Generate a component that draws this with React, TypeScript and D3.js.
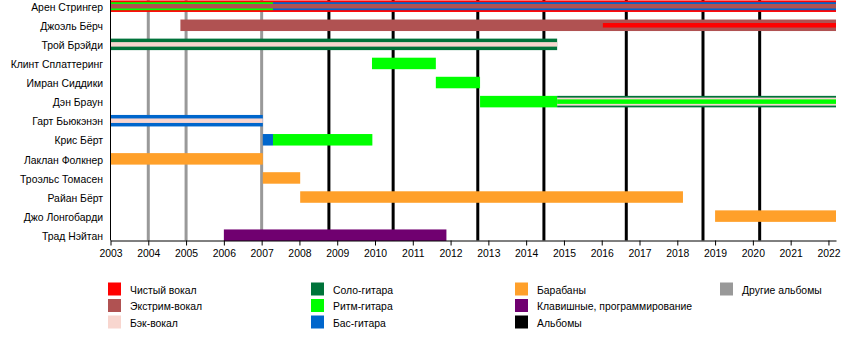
import React, { useEffect, useRef } from 'react'
import * as d3 from 'd3'

// band members, top to bottom
const members = [
  'Арен Стрингер',
  'Джоэль Бёрч',
  'Трой Брэйди',
  'Клинт Сплаттеринг',
  'Имран Сиддики',
  'Дэн Браун',
  'Гарт Бьюкэнэн',
  'Крис Бёрт',
  'Лаклан Фолкнер',
  'Троэльс Томасен',
  'Райан Бёрт',
  'Джо Лонгобарди',
  'Трад Нэйтан',
]

const END = 2022.2

// [member, role, from, to]
type Period = [string, string, number, number]

// full-height bars
const mainBars: Period[] = [
  ['Арен Стрингер', 'clean', 2003, END],
  ['Джоэль Бёрч', 'extreme', 2004.85, END],
  ['Трой Брэйди', 'lead', 2003, 2014.82],
  ['Клинт Сплаттеринг', 'rhythm', 2009.92, 2011.61],
  ['Имран Сиддики', 'rhythm', 2011.61, 2012.78],
  ['Дэн Браун', 'rhythm', 2012.78, 2014.82],
  ['Дэн Браун', 'lead', 2014.82, END],
  ['Гарт Бьюкэнэн', 'bass', 2003, 2007.03],
  ['Крис Бёрт', 'bass', 2007.03, 2007.3],
  ['Крис Бёрт', 'rhythm', 2007.3, 2009.93],
  ['Лаклан Фолкнер', 'drums', 2003, 2007.03],
  ['Троэльс Томасен', 'drums', 2007.03, 2008.02],
  ['Райан Бёрт', 'drums', 2008.02, 2018.15],
  ['Джо Лонгобарди', 'drums', 2019.0, END],
  ['Трад Нэйтан', 'keys', 2006.0, 2011.89],
]

// second layer
const midBars: Period[] = [
  ['Арен Стрингер', 'rhythm', 2003, 2007.3],
  ['Арен Стрингер', 'bass', 2007.3, END],
  ['Дэн Браун', 'backing', 2014.82, END],
]

// thin inner stripes
const innerBars: Period[] = [
  ['Арен Стрингер', 'extreme', 2003, END],
  ['Джоэль Бёрч', 'clean', 2016.03, END],
  ['Трой Брэйди', 'backing', 2003, 2014.82],
  ['Гарт Бьюкэнэн', 'backing', 2003, 2007.03],
  ['Дэн Браун', 'rhythm', 2014.82, END],
]

const albums = [2008.78, 2010.48, 2012.72, 2014.47, 2016.65, 2018.68, 2020.18]
const otherAlbums = [2004.0, 2005.0, 2007.0]

const years = d3.range(2003, 2023)

// legend columns (role keys)
const legendColumns = [
  ['clean', 'extreme', 'backing'],
  ['lead', 'rhythm', 'bass'],
  ['drums', 'keys', 'albums'],
  ['other'],
]

const roleLabels: Record<string, string> = {
  clean: 'Чистый вокал',
  extreme: 'Экстрим-вокал',
  backing: 'Бэк-вокал',
  lead: 'Соло-гитара',
  rhythm: 'Ритм-гитара',
  bass: 'Бас-гитара',
  drums: 'Барабаны',
  keys: 'Клавишные, программирование',
  albums: 'Альбомы',
  other: 'Другие альбомы',
}

const colors: Record<string, string> = {
  clean: '#ff0000',
  extreme: '#b05252',
  backing: '#f8d6cf',
  lead: '#00733a',
  rhythm: '#00ff00',
  bass: '#0066cc',
  drums: '#ffa02a',
  keys: '#700070',
  albums: '#000000',
  other: '#999999',
}

export default function App() {
  const ref = useRef<SVGSVGElement>(null)

  useEffect(() => {
    const svg = d3.select(ref.current)
    svg.selectAll('*').remove()

    const font = '"Liberation Sans", Arial, sans-serif'
    const fontSize = 10.4
    const left = 110.5
    const right = 836
    const axisY = 240.5

    const x = d3.scaleLinear().domain([2003, END]).range([left, right])
    const y = d3.scalePoint<string>().domain(members).range([6.2, 235.2])

    /* album lines behind the bars */
    svg.append('g')
      .selectAll('line')
      .data(otherAlbums)
      .enter()
      .append('line')
      .attr('x1', d => x(d)).attr('x2', d => x(d))
      .attr('y1', 0).attr('y2', axisY)
      .attr('stroke', colors.other)
      .attr('stroke-width', 3)

    svg.append('g')
      .selectAll('line')
      .data(albums)
      .enter()
      .append('line')
      .attr('x1', d => x(d)).attr('x2', d => x(d))
      .attr('y1', 0).attr('y2', axisY)
      .attr('stroke', colors.albums)
      .attr('stroke-width', 3)

    /* bars, one layer at a time */
    const layers: [Period[], number][] = [[mainBars, 11.5], [midBars, 8], [innerBars, 4.5]]
    layers.forEach(([bars, h]) => {
      svg.append('g')
        .selectAll('rect')
        .data(bars)
        .enter()
        .append('rect')
        .attr('x', d => x(d[2]))
        .attr('width', d => x(d[3]) - x(d[2]))
        .attr('y', d => (y(d[0]) as number) - h / 2)
        .attr('height', h)
        .attr('fill', d => colors[d[1]])
    })

    /* member names */
    svg.append('g')
      .selectAll('text')
      .data(members)
      .enter()
      .append('text')
      .attr('x', 103)
      .attr('y', d => (y(d) as number) + 1)
      .attr('dy', '0.35em')
      .attr('text-anchor', 'end')
      .attr('font-family', font)
      .attr('font-size', fontSize)
      .text(d => d)

    /* left line */
    svg.append('line')
      .attr('x1', left).attr('x2', left)
      .attr('y1', 0).attr('y2', axisY)
      .attr('stroke', '#000')

    /* x axis */
    const axis = svg.append('g')
      .attr('transform', `translate(0, ${axisY})`)
      .call(d3.axisBottom(x).tickValues(years).tickFormat(d => String(d)).tickSize(5).tickSizeOuter(0))
    axis.select('.domain').attr('stroke', '#000')
    axis.selectAll('text')
      .attr('font-family', font)
      .attr('font-size', fontSize)
      .attr('fill', '#000')
      .attr('dy', '0.71em')
      .attr('y', 9.5)

    /* legend */
    const colX = [108, 311, 515, 720]
    const rowY = [289, 305.5, 322]
    legendColumns.forEach((col, i) => {
      const g = svg.append('g')
      g.selectAll('rect')
        .data(col)
        .enter()
        .append('rect')
        .attr('x', colX[i])
        .attr('y', (_d, j) => rowY[j] - 6.5)
        .attr('width', 13)
        .attr('height', 13)
        .attr('fill', d => colors[d])
      g.selectAll('text')
        .data(col)
        .enter()
        .append('text')
        .attr('x', colX[i] + 22)
        .attr('y', (_d, j) => rowY[j] + 1)
        .attr('dy', '0.35em')
        .attr('font-family', font)
        .attr('font-size', fontSize)
        .text(d => roleLabels[d])
    })
  }, [])

  return (
    <svg
      ref={ref}
      width={850}
      height={360}
      style={{ position: 'absolute', left: 0, top: 0, background: '#fff' }}
    />
  )
}
